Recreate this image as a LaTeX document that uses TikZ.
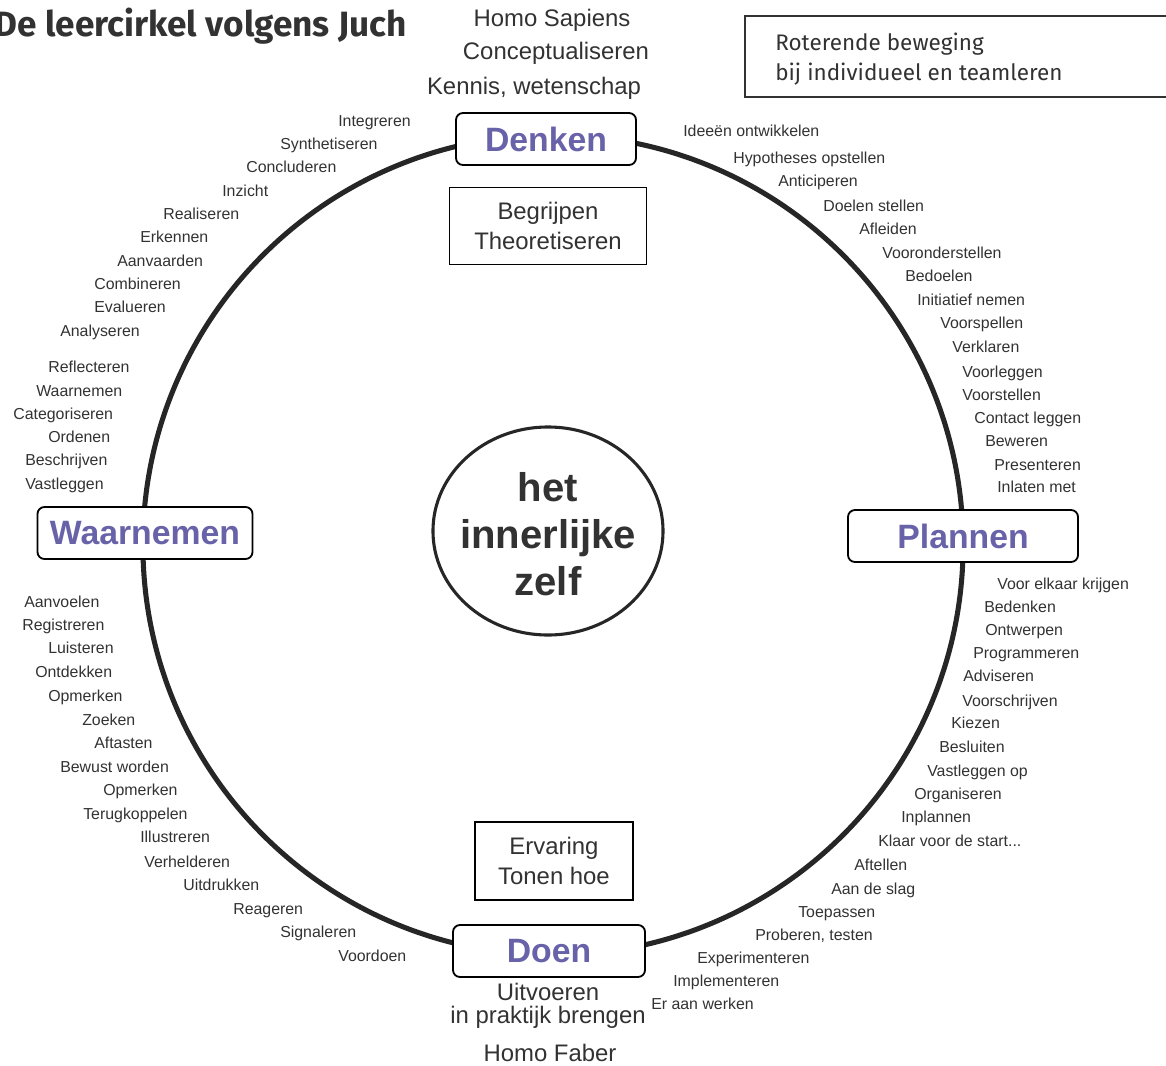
\documentclass[tikz,border=0pt]{standalone}
\usepackage{fontspec}
\setmainfont{Liberation Sans}
\newfontfamily\titlefont{Fira Sans}
\definecolor{stagecol}{RGB}{104,98,168}
\definecolor{inkgray}{RGB}{50,50,50}

\begin{document}
\begin{tikzpicture}[x=0.025cm,y=-0.025cm,
    word/.style={font=\fontsize{11.3}{13}\selectfont,text=inkgray,inner sep=0pt,anchor=west,text height=1.5ex,text depth=.25ex},
    stage/.style={draw,fill=white,rounded corners=5pt,line width=1.3pt,minimum height=1.3cm,font=\fontsize{24}{28}\selectfont\bfseries,text=stagecol},
    sidebox/.style={draw,fill=white,line width=1.3pt,align=center,font=\fontsize{17}{21.5}\selectfont,text=inkgray},
    caption/.style={font=\fontsize{17}{21}\selectfont,align=center,text=inkgray,inner sep=1pt}]
  \useasboundingbox (0,0) rectangle (1166,1066);
  \clip (0,0) rectangle (1166,1066);

  \node[anchor=base west,font=\titlefont\fontsize{25}{30}\selectfont\bfseries,text=inkgray] (title) at (-10,36) {De leercirkel volgens Juch};
  \draw[line width=1.1pt,color=inkgray] (745,16) rectangle (1180,97);
  \node[anchor=west,align=left,inner sep=0pt,font=\titlefont\fontsize{16}{21.5}\selectfont,text=inkgray] (rotate) at (775,59) {Roterende beweging\\bij individueel en teamleren};

  \node[caption] (sapiens) at (552,20) {Homo Sapiens};
  \node[caption] (concept) at (556,53) {Conceptualiseren};
  \node[caption] (kennis) at (534,88) {Kennis, wetenschap};

  \node[circle,draw=black!85,line width=3.6pt,minimum size=20.5cm] (ring) at (553,545) {};

  \node[stage,minimum width=4.5cm] (denken) at (546,139) {Denken};
  \node[stage,minimum width=5.75cm] (plannen) at (963,536) {Plannen};
  \node[stage,minimum width=5.375cm] (waarnemen) at (145,533) {Waarnemen};
  \node[stage,minimum width=4.8cm] (doen) at (549,951) {Doen};

  \node[sidebox,minimum width=4.925cm,minimum height=1.925cm] (begrijpen) at (548,226) {Begrijpen\\Theoretiseren};
  \node[sidebox,minimum width=3.95cm,minimum height=1.95cm] (ervaring) at (554,861) {Ervaring\\Tonen hoe};

  \node[align=center,inner sep=0pt,font=\fontsize{28.5}{33.5}\selectfont\bfseries,text=inkgray] (zelf) at (548,534) {het\\innerlijke\\zelf};
  \draw[black!85,line width=2.2pt] (548,531) ellipse [x radius=2.875cm, y radius=2.6cm];

  \node[caption,font=\fontsize{17}{16}\selectfont] (uitvoeren) at (548,1006) {Uitvoeren\\in praktijk brengen};
  \node[caption] (faber) at (550,1053) {Homo Faber};

  \foreach \x/\y/\t [count=\i] in {338/122/Integreren, 280/145/Synthetiseren, 246/168/Concluderen,
      222/192/Inzicht, 163/215/Realiseren, 140/238/Erkennen, 117/262/Aanvaarden, 94/285/Combineren,
      94/308/Evalueren, 60/332/Analyseren, 48/368/Reflecteren, 36/392/Waarnemen, 13/415/Categoriseren,
      48/438/Ordenen, 25/461/Beschrijven, 25/485/Vastleggen}
    \node[word] (lu\i) at (\x,\y) {\t};
  \foreach \x/\y/\t [count=\i] in {683/132/{Ideeën ontwikkelen}, 733/159/{Hypotheses opstellen},
      778/182/Anticiperen, 823/207/{Doelen stellen}, 859/230/Afleiden, 882/254/Vooronderstellen,
      905/277/Bedoelen, 917/301/{Initiatief nemen}, 940/324/Voorspellen, 952/348/Verklaren,
      962/373/Voorleggen, 962/396/Voorstellen, 974/419/{Contact leggen}, 985/442/Beweren,
      994/466/Presenteren, 997/488/{Inlaten met}}
    \node[word] (ru\i) at (\x,\y) {\t};
  \foreach \x/\y/\t [count=\i] in {997/585/{Voor elkaar krijgen}, 984/608/Bedenken, 985/631/Ontwerpen,
      973/654/Programmeren, 963/677/Adviseren, 962/702/Voorschrijven, 951/724/Kiezen, 939/748/Besluiten,
      927/772/{Vastleggen op}, 914/795/Organiseren, 901/818/Inplannen, 878/842/{Klaar voor de start...},
      854/866/Aftellen, 831/890/{Aan de slag}, 798/913/Toepassen, 755/936/{Proberen, testen},
      697/959/Experimenteren, 673/982/Implementeren, 651/1005/{Er aan werken}}
    \node[word] (rl\i) at (\x,\y) {\t};
  \foreach \x/\y/\t [count=\i] in {24/603/Aanvoelen, 22/626/Registreren, 48/649/Luisteren,
      35/673/Ontdekken, 48/697/Opmerken, 82/721/Zoeken, 94/744/Aftasten, 60/768/{Bewust worden},
      103/791/Opmerken, 83/815/Terugkoppelen, 140/838/Illustreren, 144/863/Verhelderen,
      183/886/Uitdrukken, 233/910/Reageren, 280/933/Signaleren, 338/957/Voordoen}
    \node[word] (ll\i) at (\x,\y) {\t};
\end{tikzpicture}
\end{document}
